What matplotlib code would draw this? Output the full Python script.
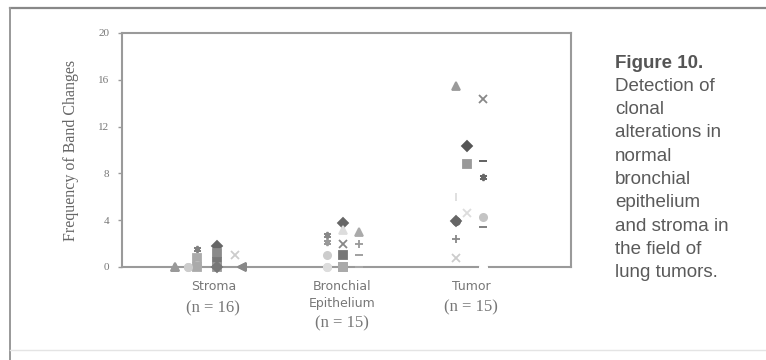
import numpy as np
import matplotlib
matplotlib.use("Agg")
import matplotlib.pyplot as plt
from matplotlib.lines import Line2D

# --- data ---
categories = ["Stroma", "Bronchial\nEpithelium", "Tumor"]
n_labels = ["(n = 16)", "(n = 15)", "(n = 15)"]

# Stroma (n = 16)
stroma_vals = [0, 0, 1.5, 0.8, 0.2, 1.8, 1.2, 0.4, 1.0, 0, 0, 0, 0, 0, 0, 0]
stroma_cols = [-2.2, -1.45, -0.9, -0.9, -0.9, 0.3, 0.3, 0.3, 1.4, 1.8, -0.9, 0.3, -2.2, 1.8, -1.45, 0.3]
stroma_mk = ['^', 'o', (6, 2, 0), 's', 'o', 'D', 's', 's', 'x', '<', 's', 's', '^', '<', 'o', 'D']
stroma_gray = ['#999999', '#cccccc', '#808080', '#aaaaaa', '#bbbbbb', '#666666', '#8a8a8a', '#777777',
               '#cccccc', '#888888', '#aaaaaa', '#999999', '#999999', '#888888', '#cccccc', '#777777']

# Bronchial epithelium (n = 15)
bronch_vals = [2.7, 2.1, 1.0, 0, 3.8, 3.2, 2.0, 1.0, 3.0, 2.0, 1.0, 0, 0, 0, 0]
bronch_cols = [-0.85, -0.85, -0.85, -0.85, 0.1, 0.1, 0.1, 0.1, 1.1, 1.1, 1.1, 0.1, 1.1, -0.85, 0.1]
bronch_mk = [(6, 2, 0), (6, 2, 0), 'o', 'o', 'D', '^', 'x', 's', '^', '+', '_', 's', '_', 'o', 's']
bronch_gray = ['#888888', '#999999', '#cccccc', '#dddddd', '#666666', '#dddddd', '#888888', '#777777',
               '#aaaaaa', '#999999', '#999999', '#aaaaaa', '#aaaaaa', '#dddddd', '#aaaaaa']

# Tumor (n = 15)
tumor_vals = [15.5, 14.4, 10.3, 8.8, 9.1, 7.7, 6.0, 4.6, 3.9, 4.3, 3.4, 2.4, 0.8, 3.9, 0]
tumor_cols = [-0.85, 0.8, -0.2, -0.2, 0.8, 0.8, -0.85, -0.2, -0.85, 0.8, 0.8, -0.85, -0.85, -0.85, 0.8]
tumor_mk = ['^', 'x', 'D', 's', '_', (6, 2, 0), '|', 'x', 'o', 'o', '_', '+', 'x', 'D', 'o']
tumor_gray = ['#9a9a9a', '#888888', '#555555', '#999999', '#555555', '#666666', '#dddddd', '#dddddd',
              '#666666', '#c4c4c4', '#777777', '#888888', '#cccccc', '#666666', '#ffffff']

caption_title = "Figure 10."
caption_lines = ["Detection of", "clonal", "alterations in", "normal", "bronchial",
                 "epithelium", "and stroma in", "the field of", "lung tumors."]

W, H = 766, 360
COL_STEP = 0.1295

fig = plt.figure(figsize=(W / 100, H / 100), dpi=100)
fig.patch.set_facecolor('white')

# outer frame of the scanned figure
fig.add_artist(Line2D([10 / W, 1], [1 - 8 / H, 1 - 8 / H], color='#888888', lw=1.6))
fig.add_artist(Line2D([10 / W, 10 / W], [1 - 8 / H, 0], color='#999999', lw=1.4))
fig.add_artist(Line2D([10 / W, 1], [1 - 350 / H, 1 - 350 / H], color='#e4e4e4', lw=1.0))

ax = fig.add_axes([122 / W, 1 - 267 / H, (571 - 122) / W, (267 - 33) / H])
ax.set_xlim(0.302, 3.783)
ax.set_ylim(0, 20)

groups = [(stroma_vals, stroma_cols, stroma_mk, stroma_gray),
          (bronch_vals, bronch_cols, bronch_mk, bronch_gray),
          (tumor_vals, tumor_cols, tumor_mk, tumor_gray)]

for gi, (vals, cols, mks, grays) in enumerate(groups):
    center = gi + 1
    for v, c, m, g in zip(vals, cols, mks, grays):
        ax.plot(center + c * COL_STEP, v, linestyle='none', marker=m, markersize=5.2,
                color=g, markeredgecolor=g, markeredgewidth=1.3, clip_on=False, zorder=3)

for s in ax.spines.values():
    s.set_color('#9a9a9a')
    s.set_linewidth(1.5)

ax.set_yticks([0, 4, 8, 12, 16, 20])
ax.set_yticklabels(['0', '4', '8', '12', '16', '20'], family='Liberation Serif',
                   fontsize=8, color='#777777')
ax.tick_params(axis='y', direction='out', length=3, width=1, color='#9a9a9a', pad=6)
ax.set_xticks([])
ax.set_ylabel('Frequency of Band Changes', family='Liberation Serif', fontsize=11.5,
              color='#666666', labelpad=14)

# category labels below the axis
tr = ax.get_xaxis_transform()
name_y = [[-0.085], [-0.085, -0.158], [-0.085]]
n_y = [-0.178, -0.24, -0.172]
for i, name in enumerate(categories):
    for line, yy in zip(name.split('\n'), name_y[i]):
        ax.text(i + 1 + 0.01, yy, line, transform=tr, ha='center', va='center',
                family='DejaVu Sans', fontsize=9, color='#777777')
    ax.text(i + 1 + 0.01, n_y[i], n_labels[i], transform=tr, ha='center', va='center',
            family='Liberation Serif', fontsize=12, color='#777777')

# caption on the right
cap_x = 615 / W
y0 = 63
step = 23.3
fig.text(cap_x, 1 - y0 / H, caption_title, ha='left', va='center', family='Liberation Sans',
         fontsize=13.5, fontweight='bold', color='#555555')
for k, line in enumerate(caption_lines):
    fig.text(cap_x, 1 - (y0 + (k + 1) * step) / H, line, ha='left', va='center',
             family='Liberation Sans', fontsize=13.5, color='#5a5a5a')

fig.savefig('out.png', dpi=100, facecolor='white')
